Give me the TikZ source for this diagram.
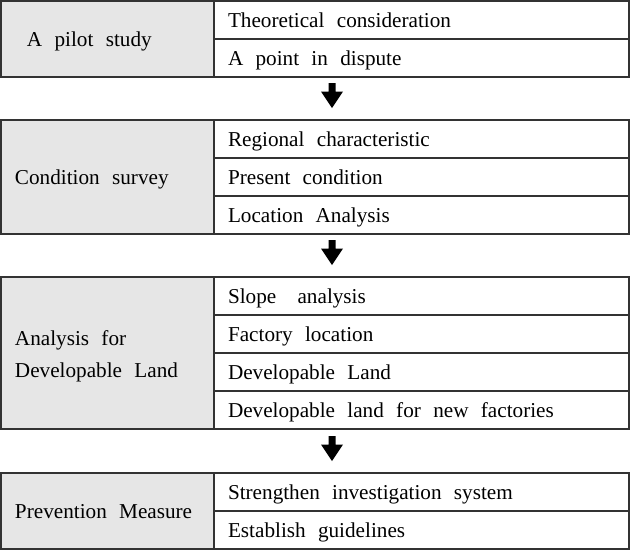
\documentclass[tikz,border=0pt]{standalone}
\usepackage{fontspec}
\setmainfont{Liberation Serif}
\definecolor{cellgray}{HTML}{E6E6E6}
\definecolor{bordercol}{HTML}{333333}
\newcommand{\cellfont}{\fontsize{21.2pt}{32pt}\selectfont}
\newcommand{\widespaces}{\spaceskip=12.3pt\relax\xspaceskip=12.3pt\relax}
\begin{document}
\begin{tikzpicture}[x=1pt,y=-1pt,
  txt/.style={font=\cellfont, execute at begin node=\widespaces},
  cellL/.style={txt, draw=bordercol, line width=1.7pt, fill=cellgray,
    minimum width=213pt, inner xsep=14pt, inner ysep=0pt, outer sep=0pt,
    text width=185pt, align=left, text height=19pt, text depth=4pt, anchor=north west},
  cellR/.style={txt, draw=bordercol, line width=1.7pt, fill=white,
    minimum width=415pt, minimum height=38pt, inner xsep=14pt, inner ysep=0pt, outer sep=0pt,
    text width=387pt, align=left, text height=19pt, text depth=4pt, anchor=north west},
  fatarrow/.pic={\fill[black] (-3.5,0) -- (3.5,0) -- (3.5,8.5) -- (11,8.5) -- (0,25)
     -- (-11,8.5) -- (-3.5,8.5) -- cycle;}
]
\useasboundingbox (0,0) rectangle (630,550);
% block 1
\node[cellL, minimum height=76pt] (b1L) at (1,1) {\hspace*{12pt}A pilot study};
\node[cellR] (b1r1) at (214,1) {Theoretical consideration};
\node[cellR] (b1r2) at (214,39) {A point in dispute};
% block 2
\node[cellL, minimum height=114pt] (b2L) at (1,120) {Condition survey};
\node[cellR] (b2r1) at (214,120) {Regional characteristic};
\node[cellR] (b2r2) at (214,158) {Present condition};
\node[cellR] (b2r3) at (214,196) {Location Analysis};
% block 3
\node[cellL, minimum height=152pt, text depth=35pt] (b3L) at (1,277) {Analysis for\\Developable Land};
\node[cellR] (b3r1) at (214,277) {Slope\hspace{9pt} analysis};
\node[cellR] (b3r2) at (214,315) {Factory location};
\node[cellR] (b3r3) at (214,353) {Developable Land};
\node[cellR] (b3r4) at (214,391) {Developable land for new factories};
% block 4
\node[cellL, minimum height=76pt] (b4L) at (1,473) {Prevention Measure};
\node[cellR] (b4r1) at (214,473) {Strengthen investigation system};
\node[cellR] (b4r2) at (214,511) {Establish guidelines};
% arrows
\coordinate (a1) at (332,83);
\coordinate (a2) at (332,240);
\coordinate (a3) at (332,436);
\pic at (a1) {fatarrow};
\pic at (a2) {fatarrow};
\pic at (a3) {fatarrow};
\end{tikzpicture}
\end{document}
